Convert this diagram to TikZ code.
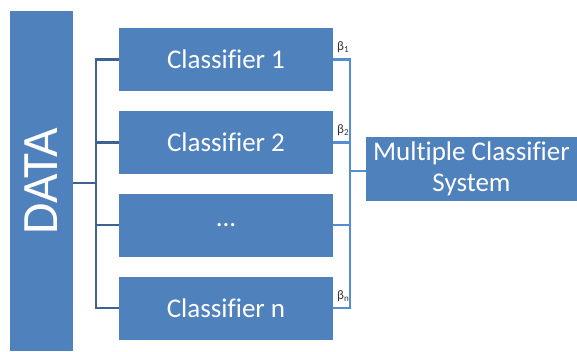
\documentclass[tikz,border=0pt]{standalone}
\usepackage{fontspec}
\setmainfont[Ligatures=NoCommon]{Carlito}
\definecolor{boxblue}{RGB}{79,129,189}
\definecolor{darkline}{RGB}{62,98,145}
\definecolor{lightline}{RGB}{84,141,212}
\definecolor{betacol}{RGB}{50,50,50}
\begin{document}
\begin{tikzpicture}[x=1pt,y=-1pt,
  bluebox/.style={fill=boxblue,draw=none,inner sep=0pt,text=white,align=center},
  clsbox/.style={bluebox,minimum width=214pt,minimum height=63pt,font=\fontsize{27}{31}\selectfont},
  leftconn/.style={draw=darkline,line width=2.2pt},
  rightconn/.style={draw=lightline,line width=2.2pt},
  betalbl/.style={text=betacol,font=\fontsize{13}{14}\selectfont,inner sep=0pt,anchor=west}]
\useasboundingbox (0,0) rectangle (577,351);
\node[bluebox,minimum width=340pt,minimum height=63pt,rotate=90,font=\fontsize{51}{55}\selectfont] (data) at (41.5,181) {DATA};
\node[clsbox] (c1) at (226,59.5) {Classifier 1};
\node[clsbox] (c2) at (226,142.5) {Classifier 2};
\node[clsbox] (c3) at (226,225) {...};
\node[clsbox] (c4) at (226,308) {Classifier n};
\node[bluebox,minimum width=211pt,minimum height=64pt,font=\fontsize{27}{31}\selectfont] (mcs) at (471.5,169) {Multiple Classifier\\System};
\coordinate (lj) at (96,183);
\coordinate (rj) at (350,171);
\draw[leftconn] (data.south |- lj) -- (lj);
\foreach \c in {c1,c2,c3,c4} {\draw[leftconn] (lj) |- (\c.west);}
\foreach \c in {c1,c2,c3,c4} {\draw[rightconn] (\c.east) -| (rj);}
\draw[rightconn] (rj) -- (mcs.west |- rj);
\node[betalbl] (b1) at (337,47) {β\textsubscript{1}};
\node[betalbl] (b2) at (337,130) {β\textsubscript{2}};
\node[betalbl] (bn) at (337,296) {β\textsubscript{n}};
\end{tikzpicture}
\end{document}
